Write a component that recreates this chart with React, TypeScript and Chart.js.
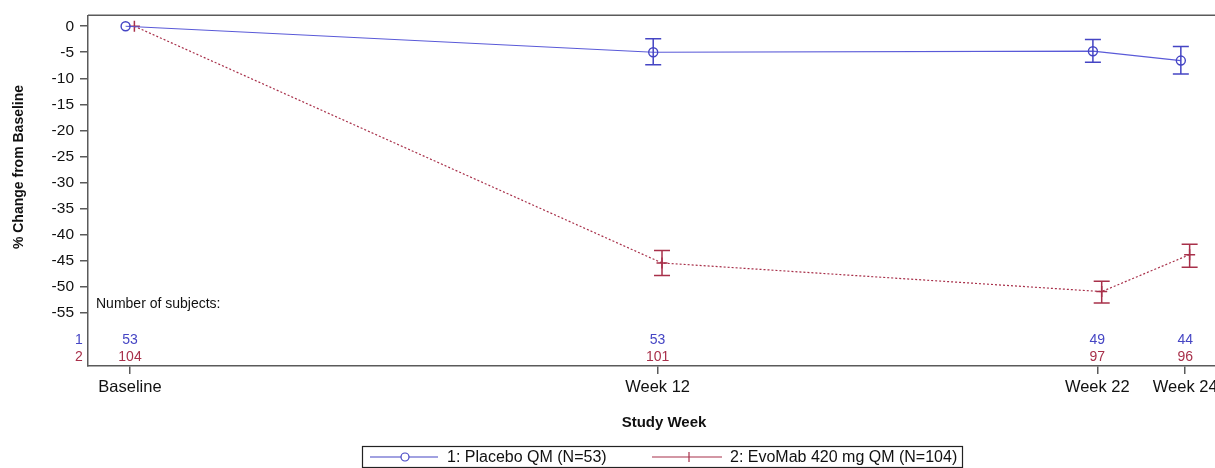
import React, { useEffect, useRef } from 'react';
import { Chart, registerables } from 'chart.js';

Chart.register(...registerables);

// ---- data ----
const weeks = [0, 12, 22, 24];
const weekLabels = ['Baseline', 'Week 12', 'Week 22', 'Week 24'];
const placeboMean = [0, -5.0, -4.8, -6.6];
const placeboLower = [null, -7.4, -6.9, -9.2];
const placeboUpper = [null, -2.4, -2.55, -3.9];
const evoMean = [0, -45.5, -51.0, -43.9];
const evoLower = [null, -47.9, -53.2, -46.3];
const evoUpper = [null, -43.1, -49.0, -41.9];
const placeboN = [53, 53, 49, 44];
const evoN = [104, 101, 97, 96];
const yTickValues = [0, -5, -10, -15, -20, -25, -30, -35, -40, -45, -50, -55];
const seriesNames = ['1: Placebo QM (N=53)', '2: EvoMab 420 mg QM (N=104)'];
const rowLabels = ['1', '2'];
const xTitle = 'Study Week';
const yTitle = '% Change from Baseline';
const subjectsTitle = 'Number of subjects:';

// ---- styles ----
const BLUE = '#4545c4';
const BLUE_LINE = '#5a5ad8';
const RED = '#a8304a';
const AXIS = '#5a5a5a';
const FONT = '"Liberation Sans", Arial, sans-serif';
const OFFSET = 0.1;

const overlay = {
  id: 'overlay',
  afterDatasetsDraw(chart: any) {
    const { ctx, chartArea, scales } = chart;
    const x = scales.x;
    const y = scales.y;
    ctx.save();

    // frame (top & right)
    ctx.strokeStyle = AXIS;
    ctx.lineWidth = 1.5;
    ctx.beginPath();
    ctx.moveTo(chartArea.left, chartArea.top);
    ctx.lineTo(chartArea.right, chartArea.top);
    ctx.lineTo(chartArea.right, chartArea.bottom);
    ctx.stroke();

    // error bars
    const drawErr = (lower: (number | null)[], upper: (number | null)[], off: number, color: string) => {
      ctx.strokeStyle = color;
      ctx.lineWidth = 1.5;
      weeks.forEach((w, i) => {
        const lo = lower[i];
        const hi = upper[i];
        if (lo == null || hi == null) return;
        const px = x.getPixelForValue(w + off);
        const pl = y.getPixelForValue(lo);
        const ph = y.getPixelForValue(hi);
        ctx.beginPath();
        ctx.moveTo(px, pl);
        ctx.lineTo(px, ph);
        ctx.moveTo(px - 8, pl);
        ctx.lineTo(px + 8, pl);
        ctx.moveTo(px - 8, ph);
        ctx.lineTo(px + 8, ph);
        ctx.stroke();
      });
    };
    drawErr(placeboLower, placeboUpper, -OFFSET, BLUE);
    drawErr(evoLower, evoUpper, OFFSET, RED);

    // number of subjects
    ctx.textBaseline = 'middle';
    ctx.fillStyle = '#111';
    ctx.textAlign = 'left';
    ctx.font = `14px ${FONT}`;
    ctx.fillText(subjectsTitle, chartArea.left + 8, 304);

    ctx.font = `14px ${FONT}`;
    ctx.textAlign = 'center';
    const rows: [number[], string, number][] = [
      [placeboN, BLUE, 340],
      [evoN, RED, 357],
    ];
    rows.forEach(([vals, color, py], r) => {
      ctx.fillStyle = color;
      ctx.fillText(rowLabels[r], 79, py);
      vals.forEach((v, i) => {
        ctx.fillText(String(v), x.getPixelForValue(weeks[i]), py);
      });
    });

    // axis titles
    ctx.fillStyle = '#111';
    ctx.font = `bold 15px ${FONT}`;
    ctx.textAlign = 'center';
    ctx.fillText(xTitle, 664, 423);
    ctx.save();
    ctx.translate(19, 167);
    ctx.rotate(-Math.PI / 2);
    ctx.font = `bold 14px ${FONT}`;
    ctx.fillText(yTitle, 0, 0);
    ctx.restore();

    // legend
    const ly = 457;
    ctx.strokeStyle = '#222';
    ctx.lineWidth = 1.2;
    ctx.strokeRect(362.5, 446.5, 600, 21);
    // blue entry
    ctx.strokeStyle = BLUE;
    ctx.lineWidth = 1.2;
    ctx.beginPath();
    ctx.moveTo(370, ly);
    ctx.lineTo(438, ly);
    ctx.stroke();
    ctx.beginPath();
    ctx.fillStyle = '#fff';
    ctx.arc(405, ly, 4, 0, Math.PI * 2);
    ctx.fill();
    ctx.stroke();
    // red entry
    ctx.strokeStyle = RED;
    ctx.beginPath();
    ctx.moveTo(652, ly);
    ctx.lineTo(722, ly);
    ctx.moveTo(689, ly - 5);
    ctx.lineTo(689, ly + 5);
    ctx.stroke();
    ctx.fillStyle = '#111';
    ctx.font = `16px ${FONT}`;
    ctx.textAlign = 'left';
    ctx.fillText(seriesNames[0], 447, ly + 1);
    ctx.fillText(seriesNames[1], 730, ly + 1);

    ctx.restore();
  },
};

export default function App() {
  const ref = useRef<HTMLCanvasElement>(null);

  useEffect(() => {
    if (!ref.current) return;
    const chart = new Chart(ref.current, {
      type: 'line',
      data: {
        datasets: [
          {
            label: seriesNames[0],
            data: weeks.map((w, i) => ({ x: w - OFFSET, y: placeboMean[i] })),
            borderColor: BLUE_LINE,
            borderWidth: 1.2,
            pointStyle: 'circle',
            pointRadius: 4.5,
            pointBorderWidth: 1.4,
            pointBorderColor: BLUE,
            pointBackgroundColor: 'rgba(0,0,0,0)',
            tension: 0,
          },
          {
            label: seriesNames[1],
            data: weeks.map((w, i) => ({ x: w + OFFSET, y: evoMean[i] })),
            borderColor: RED,
            borderWidth: 1.2,
            borderDash: [2, 2],
            pointStyle: 'cross',
            pointRadius: 5.5,
            pointBorderWidth: 1.5,
            pointBorderColor: RED,
            tension: 0,
          },
        ],
      },
      options: {
        responsive: false,
        animation: false,
        layout: { padding: { top: 14, left: 0, right: 12, bottom: 0 } },
        plugins: {
          legend: { display: false },
          tooltip: { enabled: false },
        },
        scales: {
          x: {
            type: 'linear',
            min: -0.955,
            max: 25.2,
            afterBuildTicks: (scale: any) => {
              scale.ticks = weeks.map((v) => ({ value: v }));
            },
            afterFit: (scale: any) => {
              scale.height = 102;
            },
            ticks: {
              autoSkip: false,
              maxRotation: 0,
              padding: 4,
              color: '#111',
              font: { family: FONT, size: 16.5 },
              callback: (v: any) => {
                const i = weeks.indexOf(Number(v));
                return i >= 0 ? weekLabels[i] : '';
              },
            },
            grid: {
              display: true,
              drawOnChartArea: false,
              drawTicks: true,
              tickLength: 8,
              color: AXIS,
              lineWidth: 1.5,
            },
            border: { display: true, color: AXIS, width: 1.5 },
          },
          y: {
            type: 'linear',
            min: -65.3,
            max: 2.1,
            afterBuildTicks: (scale: any) => {
              scale.ticks = yTickValues.map((v) => ({ value: v }));
            },
            afterFit: (scale: any) => {
              scale.width = 88;
            },
            ticks: {
              autoSkip: false,
              padding: 6,
              color: '#111',
              font: { family: FONT, size: 15.5 },
            },
            grid: {
              display: true,
              drawOnChartArea: false,
              drawTicks: true,
              tickLength: 8,
              color: AXIS,
              lineWidth: 1.5,
            },
            border: { display: true, color: AXIS, width: 1.5 },
          },
        },
      },
      plugins: [overlay],
    });
    return () => chart.destroy();
  }, []);

  return (
    <div
      style={{
        position: 'absolute',
        left: 0,
        top: 0,
        width: 1215,
        height: 468,
        overflow: 'hidden',
        background: '#fff',
      }}
    >
      <canvas ref={ref} width={1250} height={468} style={{ display: 'block' }} />
    </div>
  );
}
